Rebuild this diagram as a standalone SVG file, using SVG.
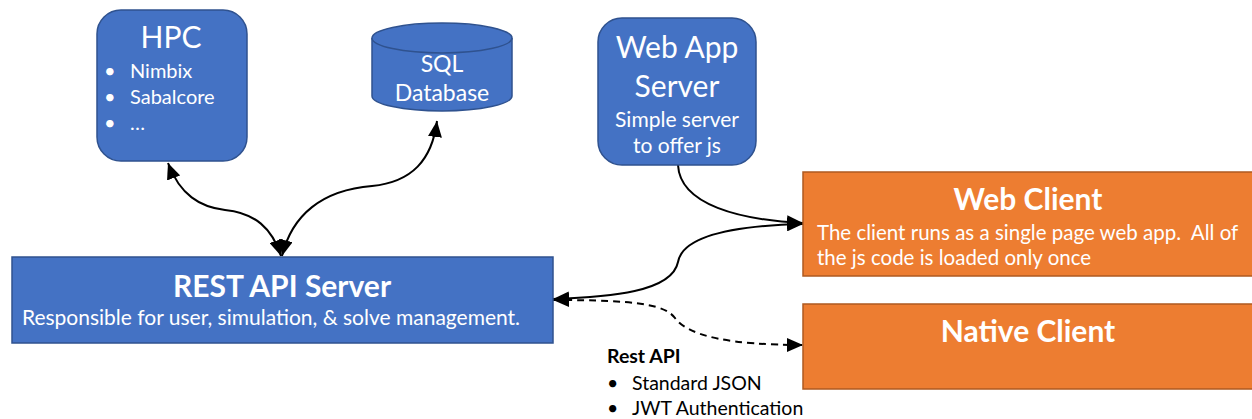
<svg xmlns="http://www.w3.org/2000/svg" width="1252" height="419" viewBox="0 0 1252 419">
  <style>
    text { font-family: Lato, "Liberation Sans", sans-serif; fill: #ffffff; }
    .blue { fill: #4472C4; stroke: #2F528F; stroke-width: 1.5; }
    .orange { fill: #ED7D31; stroke: #AE5A21; stroke-width: 1.5; }
    .title { font-weight: bold; font-size: 30px; text-anchor: middle; }
    .big { font-size: 30px; text-anchor: middle; }
    .mid { font-size: 21px; text-anchor: middle; }
    .body { font-size: 20px; }
    .link { fill: none; stroke: #000000; stroke-width: 2; }
    .dashed { stroke-dasharray: 7 5; }
    .note { fill: #000000; font-size: 19.5px; }
  </style>
  <defs>
    <marker id="arrow" viewBox="0 0 16 14" refX="16" refY="7" markerWidth="16" markerHeight="14" markerUnits="userSpaceOnUse" orient="auto-start-reverse">
      <path d="M0,0 L16,7 L0,14 Z" fill="#000000"/>
    </marker>
  </defs>

  <g id="connectors">
    <path class="link" d="M168,163 C180,195 200,207 225,210 C255,213 272,228 281,256" marker-start="url(#arrow)" marker-end="url(#arrow)"/>
    <path class="link" d="M437,121 C432,160 412,182 372,186 C322,190 292,215 282,256" marker-start="url(#arrow)" marker-end="url(#arrow)"/>
    <path class="link" d="M678,165 C680,205 740,220 803,223" marker-end="url(#arrow)"/>
    <path class="link" d="M803,224 C720,226 682,240 678,262 C672,292 610,297 553,299" marker-start="url(#arrow)" marker-end="url(#arrow)"/>
    <path class="link dashed" d="M553,300 C640,300 665,305 675,318 C688,336 730,345 803,345" marker-start="url(#arrow)" marker-end="url(#arrow)"/>
  </g>

  <g id="hpc">
    <rect class="blue" x="97" y="10" width="150" height="151" rx="24"/>
    <text class="big" x="171" y="48">HPC</text>
    <text class="body" x="104" y="78">•</text>
    <text class="body" x="130" y="78">Nimbix</text>
    <text class="body" x="104" y="104">•</text>
    <text class="body" x="130" y="104">Sabalcore</text>
    <text class="body" x="104" y="130">•</text>
    <text class="body" x="130" y="130">…</text>
  </g>

  <g id="sql-database">
    <path class="blue" d="M372,38 A70,15 0 0 1 512,38 V96 A70,15 0 0 1 372,96 Z"/>
    <path class="blue" fill="none" d="M372,38 A70,15 0 0 0 512,38"/>
    <text class="mid" style="font-size:23px" x="442" y="72">SQL</text>
    <text class="mid" style="font-size:23px" x="442" y="101">Database</text>
  </g>

  <g id="web-app-server">
    <rect class="blue" x="598" y="18" width="158" height="147" rx="24"/>
    <text class="big" x="677" y="58">Web App</text>
    <text class="big" x="677" y="97">Server</text>
    <text class="mid" x="677" y="127">Simple server</text>
    <text class="mid" x="677" y="153">to offer js</text>
  </g>

  <g id="web-client">
    <rect class="orange" x="803" y="172" width="460" height="104"/>
    <text class="title" x="1028" y="210">Web Client</text>
    <text class="body" x="817" y="240" style="font-size:20.5px" xml:space="preserve">The client runs as a single page web app.  All of</text>
    <text class="body" x="817" y="265" style="font-size:20.5px">the js code is loaded only once</text>
  </g>

  <g id="rest-api-server">
    <rect class="blue" x="12" y="257" width="541" height="86"/>
    <text class="title" x="282" y="297">REST API Server</text>
    <text class="mid" x="271" y="325">Responsible for user, simulation, &amp; solve management.</text>
  </g>

  <g id="native-client">
    <rect class="orange" x="803" y="304" width="460" height="85"/>
    <text class="title" x="1028" y="342">Native Client</text>
  </g>

  <g id="rest-api-note">
    <text class="note" x="607" y="363" style="font-weight:bold">Rest API</text>
    <text class="note" x="607" y="390">•</text>
    <text class="note" x="632" y="390">Standard JSON</text>
    <text class="note" x="607" y="415">•</text>
    <text class="note" x="632" y="415">JWT Authentication</text>
  </g>
</svg>
